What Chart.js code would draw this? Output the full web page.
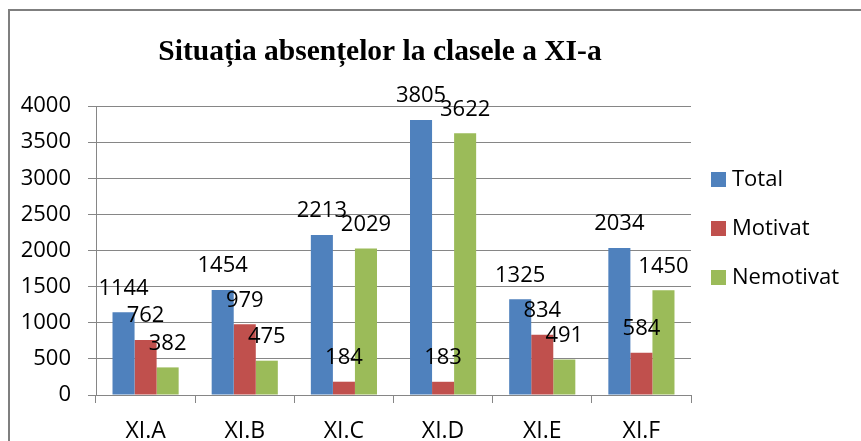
<!DOCTYPE html>
<html>
<head>
<meta charset="utf-8">
<script src="https://cdn.jsdelivr.net/npm/chart.js@4/dist/chart.umd.min.js"></script>
<style>
  html, body { margin: 0; padding: 0; background: #fff; }
  #wrap { position: relative; width: 861px; height: 441px; }
</style>
</head>
<body>
<div id="wrap"><canvas id="c" width="861" height="441"></canvas></div>
<script>
const chartTitle = "Situația absențelor la clasele a XI-a";
const categories = ["XI.A", "XI.B", "XI.C", "XI.D", "XI.E", "XI.F"];
const seriesNames = ["Total", "Motivat", "Nemotivat"];
const totalValues = [1144, 1454, 2213, 3805, 1325, 2034];
const motivatValues = [762, 979, 184, 183, 834, 584];
const nemotivatValues = [382, 475, 2029, 3622, 491, 1450];
const yTicks = [0, 500, 1000, 1500, 2000, 2500, 3000, 3500, 4000];

const colors = ["#4F81BD", "#C0504D", "#9BBB59"];
const gridColor = "#868686";
const FONT = "'Open Sans', 'Noto Sans', sans-serif";

const framePlugin = {
  id: "frame",
  beforeDraw(chart) {
    const ctx = chart.ctx;
    ctx.save();
    ctx.fillStyle = "#fff";
    ctx.fillRect(0, 0, chart.width, chart.height);
    ctx.strokeStyle = "#7f7f7f";
    ctx.lineWidth = 2;
    ctx.beginPath();
    ctx.moveTo(9, chart.height + 5);
    ctx.lineTo(9, 10);
    ctx.lineTo(chart.width + 5, 10);
    ctx.stroke();
    ctx.restore();
  }
};

const titleLegendPlugin = {
  id: "titleLegend",
  afterDraw(chart) {
    const ctx = chart.ctx;
    ctx.save();
    ctx.fillStyle = "#000";
    ctx.font = "bold 29.5px 'Liberation Serif', 'DejaVu Serif', serif";
    ctx.textAlign = "center";
    ctx.textBaseline = "alphabetic";
    ctx.fillText(chartTitle, 380, 60);
    // legend
    ctx.font = "22px " + FONT;
    ctx.textAlign = "left";
    ctx.textBaseline = "middle";
    chart.data.datasets.forEach((ds, i) => {
      const cy = 179 + i * 49;
      ctx.fillStyle = ds.backgroundColor;
      ctx.fillRect(711, cy - 7, 15, 15);
      ctx.fillStyle = "#000";
      ctx.fillText(ds.label, 732, cy + 1);
    });
    ctx.restore();
  }
};

const valueLabelPlugin = {
  id: "valueLabels",
  afterDatasetsDraw(chart) {
    const ctx = chart.ctx;
    ctx.save();
    ctx.font = "22px " + FONT;
    ctx.fillStyle = "#000";
    ctx.textAlign = "center";
    ctx.textBaseline = "middle";
    chart.data.datasets.forEach((ds, di) => {
      const meta = chart.getDatasetMeta(di);
      meta.data.forEach((bar, i) => {
        ctx.fillText(String(ds.data[i]), bar.x, bar.y - 24);
      });
    });
    ctx.restore();
  }
};

new Chart(document.getElementById("c"), {
  type: "bar",
  data: {
    labels: categories,
    datasets: [
      { label: seriesNames[0], data: totalValues, backgroundColor: colors[0] },
      { label: seriesNames[1], data: motivatValues, backgroundColor: colors[1] },
      { label: seriesNames[2], data: nemotivatValues, backgroundColor: colors[2] }
    ]
  },
  options: {
    responsive: false,
    animation: false,
    devicePixelRatio: 1,
    layout: { padding: { left: 0, top: 106, right: 170, bottom: 0 } },
    datasets: { bar: { categoryPercentage: 0.667, barPercentage: 1.0, borderWidth: 0 } },
    plugins: {
      legend: { display: false },
      title: { display: false },
      tooltip: { enabled: false }
    },
    scales: {
      x: {
        offset: true,
        grid: { offset: true, drawOnChartArea: false, drawTicks: true, tickLength: 8, color: gridColor, lineWidth: 1 },
        border: { display: true, color: gridColor, width: 1 },
        ticks: { font: { family: FONT, size: 23 }, color: "#000", padding: 15, maxRotation: 0 },
        afterFit(scale) { scale.height = 46; }
      },
      y: {
        min: 0,
        max: 4000,
        afterBuildTicks(scale) { scale.ticks = yTicks.map(v => ({ value: v })); },
        grid: { color: gridColor, lineWidth: 1, tickLength: 8, drawTicks: true },
        border: { display: true, color: gridColor, width: 1 },
        ticks: { font: { family: FONT, size: 22 }, color: "#000", padding: 17, callback: (v) => String(v) },
        afterFit(scale) { scale.width = 96; }
      }
    }
  },
  plugins: [framePlugin, titleLegendPlugin, valueLabelPlugin]
});
</script>
</body>
</html>
